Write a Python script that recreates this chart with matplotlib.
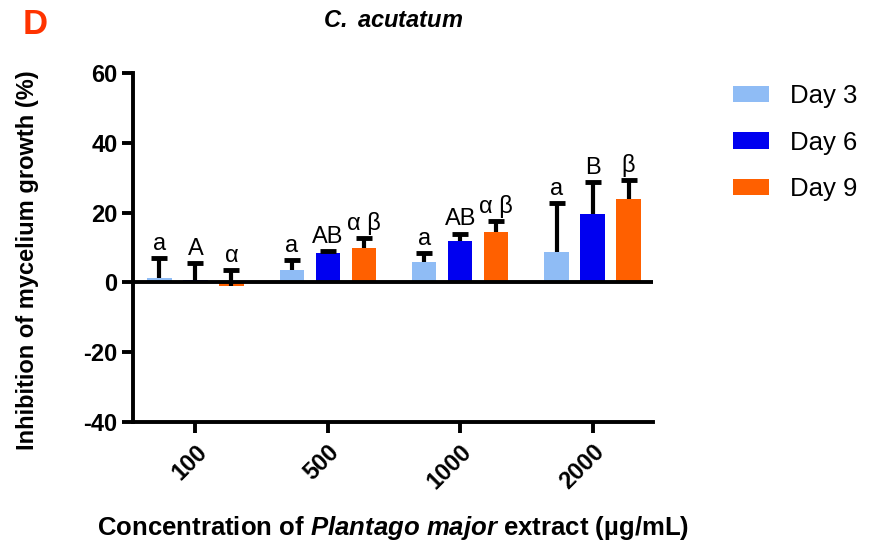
import matplotlib
matplotlib.use("Agg")
import matplotlib.pyplot as plt
import numpy as np
from matplotlib.patches import Patch

plt.rcParams['font.family'] = ['Liberation Sans', 'DejaVu Sans']
plt.rcParams['mathtext.fontset'] = 'custom'
plt.rcParams['mathtext.bfit'] = 'Liberation Sans:italic:bold'
plt.rcParams['mathtext.it'] = 'Liberation Sans:italic'
plt.rcParams['mathtext.bf'] = 'Liberation Sans:bold'
plt.rcParams['mathtext.rm'] = 'Liberation Sans'
plt.rcParams['axes.unicode_minus'] = False

categories = ["100", "500", "1000", "2000"]
series = ["Day 3", "Day 6", "Day 9"]
day3 = [1.4, 3.5, 5.8, 8.6]
day6 = [0.6, 8.3, 11.8, 19.6]
day9 = [-1.0, 10.0, 14.4, 23.9]
err3 = [5.6, 2.8, 2.5, 14.1]
err6 = [4.9, 0.7, 2.2, 9.2]
err9 = [4.5, 2.7, 3.1, 5.5]
letters3 = ["a", "a", "a", "a"]
letters6 = ["A", "AB", "AB", "B"]
letters9 = ["α", "α β", "α β", "β"]
colors = ["#8fbcf5", "#0000f0", "#ff6000"]

fig = plt.figure(figsize=(8.7, 5.47), dpi=100)
ax = fig.add_axes([133/870, 1-422/547, (653-133)/870, (422-73)/547])

x = np.arange(len(categories))
width = 0.185
offsets = [-0.272, 0.0, 0.272]
vals = [day3, day6, day9]
errs = [err3, err6, err9]
lets = [letters3, letters6, letters9]
for i in range(3):
    xs = x + offsets[i]
    ax.bar(xs, vals[i], width=width, color=colors[i], zorder=2)
    for xv, v, e, l in zip(xs, vals[i], errs[i], lets[i]):
        top = v + e
        ax.vlines(xv, v, top, color='black', lw=3, zorder=3)
        ax.plot([xv], [top], marker='_', ms=12, mew=3.5, color='black', zorder=3)
        ax.text(xv, top + 0.9, l, ha='center', va='bottom', fontsize=17)

ax.axhline(0, color='black', lw=2.8, zorder=4)
ax.set_xlim(-0.472, 3.457)
ax.set_ylim(-40, 60)
ax.set_yticks([-40, -20, 0, 20, 40, 60])
ax.set_xticks(x)
ax.set_xticklabels(categories, rotation=45, ha='right', rotation_mode='anchor',
                   fontsize=17, fontweight='bold')
for lab in ax.get_yticklabels():
    lab.set_fontweight('bold')
    lab.set_fontsize(17)
ax.spines['top'].set_visible(False)
ax.spines['right'].set_visible(False)
ax.spines['left'].set_linewidth(2.8)
ax.spines['bottom'].set_linewidth(2.8)
ax.tick_params(axis='both', width=2.8, length=8, direction='out')
ax.tick_params(axis='x', pad=5, length=8)
ax.tick_params(axis='y', pad=3)

ax.set_ylabel("Inhibition of mycelium growth (%)", fontsize=17, fontweight='bold')
ax.yaxis.set_label_coords(-0.18, 0.465)
ax.set_xlabel(r"Concentration of $\mathbfit{Plantago\ major}$ extract (µg/mL)",
              fontsize=18.5, fontweight='bold', labelpad=15)
ax.set_title(r"$\mathbfit{C.\ acutatum}$", fontsize=17, pad=33)

fig.text(35/870, 1-24/547, "D", color='#ff3300', fontsize=25, fontweight='bold',
         ha='center', va='center')

handles = [Patch(facecolor=c, edgecolor='none') for c in colors]
fig.legend(handles, series, loc='upper left', bbox_to_anchor=(733/870, 1-84/547),
           frameon=False, fontsize=18.5, handlelength=1.4, handleheight=0.6,
           labelspacing=0.88, handletextpad=0.8, borderpad=0, borderaxespad=0)

fig.savefig("out.png", dpi=100)
